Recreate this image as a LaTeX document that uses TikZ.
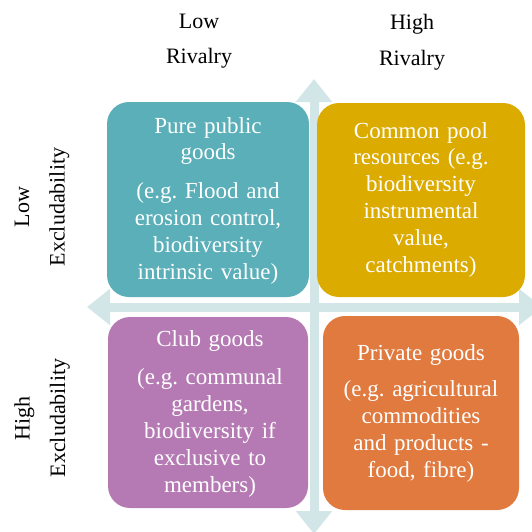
\documentclass[tikz,border=0pt]{standalone}
\usepackage{fontspec}
\setmainfont{Liberation Serif}
\usetikzlibrary{arrows.meta}
\frenchspacing
\definecolor{axiscol}{HTML}{D2E5E7}
\definecolor{tealbox}{HTML}{5AAFB8}
\definecolor{yellowbox}{HTML}{DCAB00}
\definecolor{purplebox}{HTML}{B57AB3}
\definecolor{orangebox}{HTML}{E07A3F}
\tikzset{
  axisline/.style={draw=axiscol, line width=9pt,
    {Triangle[width=35pt,length=23pt]}-{Triangle[width=35pt,length=23pt]}},
  quadbox/.style={rectangle, rounded corners=22pt, draw=none, inner sep=0pt},
  boxtext/.style={text=white, align=center, text width=200pt, inner sep=0pt,
    font=\fontsize{23}{26.8}\selectfont},
  axislabel/.style={text=black, align=center, inner sep=0pt,
    font=\fontsize{22}{35.5}\selectfont}
}
\begin{document}
\begin{tikzpicture}[x=1pt,y=-1pt]
\useasboundingbox (0,0) rectangle (532,531);
\clip (0,0) rectangle (532,531);
% axes
\coordinate (vtop) at (314,79);
\coordinate (vbot) at (314,534);
\coordinate (hleft) at (87,307);
\coordinate (hright) at (542,307);
\draw[axisline] (vbot) -- (vtop);
\draw[axisline] (hleft) -- (hright);
% boxes
\node[quadbox, fill=tealbox, minimum width=202pt, minimum height=195pt] (pp) at (208,199.5) {};
\node[quadbox, fill=yellowbox, minimum width=208pt, minimum height=194pt] (cp) at (421,200) {};
\node[quadbox, fill=purplebox, minimum width=200pt, minimum height=191pt] (cg) at (208,412.5) {};
\node[quadbox, fill=orangebox, minimum width=196pt, minimum height=194pt] (pg) at (421,413) {};
% box texts
\node[boxtext, anchor=base] (pptext) at (208,133) {Pure public\\goods\\[12pt](e.g. Flood and\\erosion control,\\biodiversity\\intrinsic value)};
\node[boxtext, anchor=base] (cptext) at (421,138) {Common pool\\resources (e.g.\\biodiversity\\instrumental\\value,\\catchments)};
\node[boxtext, anchor=base] (cgtext) at (210,346) {Club goods\\[12pt](e.g. communal\\gardens,\\biodiversity if\\exclusive to\\members)};
\node[boxtext, anchor=base] (pgtext) at (421,360) {Private goods\\[10pt](e.g. agricultural\\commodities\\and products -\\food, fibre)};
% axis labels
\node[axislabel] (lowriv) at (199,41) {Low\\Rivalry};
\node[axislabel] (highriv) at (412,42) {High\\Rivalry};
\node[axislabel, rotate=90] (lowex) at (42,207) {Low\\Excludability};
\node[axislabel, rotate=90] (highex) at (42,418) {High\\Excludability};
\end{tikzpicture}
\end{document}
